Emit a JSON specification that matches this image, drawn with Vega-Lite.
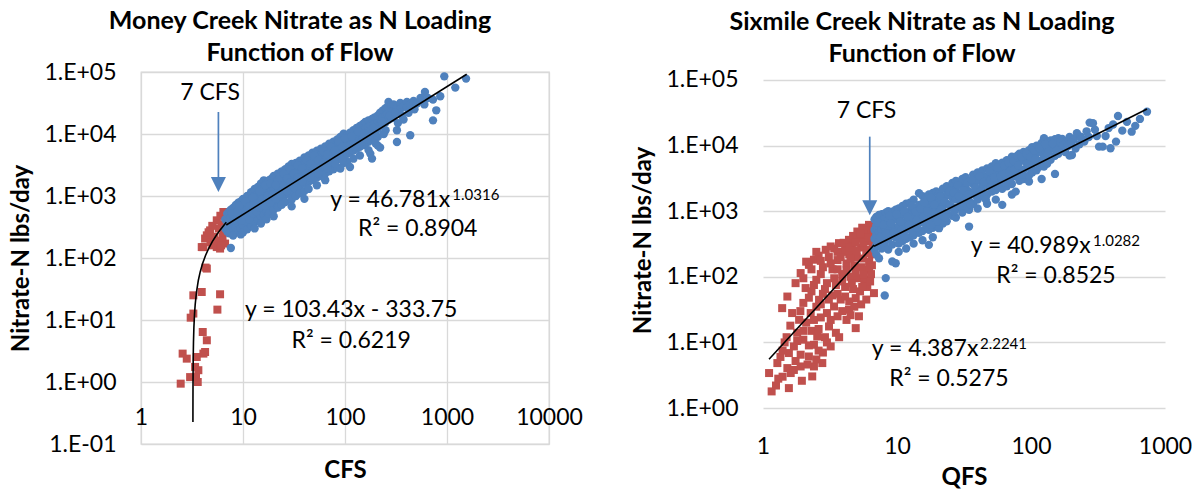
{
 "$schema": "https://vega.github.io/schema/vega-lite/v6.json",
 "padding": {"left": 9, "top": 8, "right": 0, "bottom": 0},
 "spacing": 48,
 "background": "white",
 "config": {
  "font": "Lato",
  "view": {"stroke": "#d9d9d9", "strokeWidth": 1.3},
  "axis": {"grid": true, "gridColor": "#d9d9d9", "gridWidth": 1.3, "domain": false, "ticks": false, "labelFont": "Lato", "labelFontSize": 23, "labelColor": "#000", "titleFont": "Lato", "titleFontSize": 24, "titleFontWeight": "bold", "titleColor": "#000", "labelOverlap": false, "labelFlush": false},
  "title": {"font": "Lato", "fontSize": 25, "fontWeight": "bold", "color": "#000", "lineHeight": 32, "anchor": "middle"}
 },
 "datasets": {
  "moneyBlue": [
   {"x":6.7,"y":420},{"x":6.7,"y":300},
   {"x":7.0,"y":520},{"x":7.0,"y":380},{"x":7.0,"y":270},
   {"x":7.3,"y":560},{"x":7.3,"y":330},{"x":7.3,"y":250},
   {"x":7.6,"y":145},{"x":7.6,"y":600},{"x":7.6,"y":450},
   {"x":8.0,"y":640},{"x":8.0,"y":480},{"x":8.0,"y":360},{"x":8.0,"y":300},{"x":8.0,"y":230},
   {"x":8.5,"y":720},{"x":8.5,"y":520},{"x":8.5,"y":400},{"x":8.5,"y":310},
   {"x":9.0,"y":780},{"x":9.0,"y":600},{"x":9.0,"y":470},{"x":9.0,"y":360},{"x":9.0,"y":280},
   {"x":9.5,"y":820},{"x":9.5,"y":650},{"x":9.5,"y":500},{"x":9.5,"y":390},{"x":9.5,"y":300},{"x":9.5,"y":240},
   {"x":10,"y":900},{"x":10,"y":700},{"x":10,"y":560},{"x":10,"y":440},{"x":10,"y":340},{"x":10,"y":260},
   {"x":11,"y":1000},{"x":11,"y":780},{"x":11,"y":620},{"x":11,"y":480},{"x":11,"y":380},{"x":11,"y":290},
   {"x":12,"y":1150},{"x":12,"y":900},{"x":12,"y":700},{"x":12,"y":560},{"x":12,"y":450},{"x":12,"y":330},
   {"x":13,"y":1300},{"x":13,"y":1000},{"x":13,"y":800},{"x":13,"y":640},{"x":13,"y":480},{"x":13,"y":380},{"x":13,"y":300},
   {"x":14,"y":1400},{"x":14,"y":1100},{"x":14,"y":880},{"x":14,"y":700},{"x":14,"y":560},{"x":14,"y":420},
   {"x":15,"y":1600},{"x":15,"y":1250},{"x":15,"y":950},{"x":15,"y":780},{"x":15,"y":600},{"x":15,"y":470},{"x":15,"y":360},
   {"x":16,"y":1790},{"x":16,"y":1300},{"x":16,"y":1050},{"x":16,"y":820},{"x":16,"y":640},{"x":16,"y":500},
   {"x":17,"y":1650},{"x":17,"y":1200},{"x":17,"y":950},{"x":17,"y":750},{"x":17,"y":560},{"x":17,"y":420},
   {"x":18,"y":1800},{"x":18,"y":1450},{"x":18,"y":1100},{"x":18,"y":880},{"x":18,"y":680},{"x":18,"y":520},
   {"x":19,"y":1900},{"x":19,"y":1500},{"x":19,"y":1200},{"x":19,"y":900},{"x":19,"y":700},
   {"x":20,"y":2100},{"x":20,"y":1650},{"x":20,"y":1300},{"x":20,"y":1000},{"x":20,"y":780},{"x":20,"y":600},{"x":20,"y":470},
   {"x":22,"y":2300},{"x":22,"y":1800},{"x":22,"y":1400},{"x":22,"y":1150},{"x":22,"y":850},{"x":22,"y":650},
   {"x":24,"y":2500},{"x":24,"y":2000},{"x":24,"y":1600},{"x":24,"y":1250},{"x":24,"y":950},{"x":24,"y":720},
   {"x":26,"y":2700},{"x":26,"y":2200},{"x":26,"y":1700},{"x":26,"y":1350},{"x":26,"y":1050},{"x":26,"y":800},
   {"x":28,"y":3000},{"x":28,"y":2400},{"x":28,"y":1850},{"x":28,"y":1450},{"x":28,"y":1100},
   {"x":30,"y":3300},{"x":30,"y":2600},{"x":30,"y":2000},{"x":30,"y":1550},{"x":30,"y":1200},{"x":30,"y":880},{"x":30,"y":680},
   {"x":33,"y":3400},{"x":33,"y":2800},{"x":33,"y":2200},{"x":33,"y":1700},{"x":33,"y":1300},{"x":33,"y":1000},
   {"x":36,"y":3700},{"x":36,"y":3000},{"x":36,"y":2400},{"x":36,"y":1850},{"x":36,"y":1400},{"x":36,"y":1100},
   {"x":40,"y":4200},{"x":40,"y":3300},{"x":40,"y":2600},{"x":40,"y":2000},{"x":40,"y":1600},{"x":40,"y":1200},{"x":40,"y":900},
   {"x":44,"y":4500},{"x":44,"y":3600},{"x":44,"y":2800},{"x":44,"y":2200},{"x":44,"y":1700},{"x":44,"y":1300},
   {"x":48,"y":5000},{"x":48,"y":3900},{"x":48,"y":3100},{"x":48,"y":2400},{"x":48,"y":1800},
   {"x":53,"y":5400},{"x":53,"y":4200},{"x":53,"y":3300},{"x":53,"y":2600},{"x":53,"y":2000},{"x":53,"y":1490},
   {"x":58,"y":5800},{"x":58,"y":4600},{"x":58,"y":3600},{"x":58,"y":2800},{"x":58,"y":2100},
   {"x":64,"y":6300},{"x":64,"y":5000},{"x":64,"y":3900},{"x":64,"y":3000},{"x":64,"y":2300},{"x":64,"y":1800},
   {"x":70,"y":7000},{"x":70,"y":5500},{"x":70,"y":4300},{"x":70,"y":3300},{"x":70,"y":2500},
   {"x":77,"y":7500},{"x":77,"y":5460},{"x":77,"y":4600},{"x":77,"y":3600},{"x":77,"y":2700},
   {"x":84,"y":8200},{"x":84,"y":6500},{"x":84,"y":5000},{"x":84,"y":3900},{"x":84,"y":2900},
   {"x":90,"y":9000},{"x":90,"y":7000},{"x":90,"y":5400},{"x":90,"y":4200},{"x":90,"y":2770},
   {"x":97,"y":10100},{"x":97,"y":7500},{"x":97,"y":5800},{"x":97,"y":4500},{"x":97,"y":3400},
   {"x":105,"y":9500},{"x":105,"y":7800},{"x":105,"y":6200},{"x":105,"y":4800},{"x":105,"y":3600},
   {"x":112,"y":10500},{"x":112,"y":8200},{"x":112,"y":6500},{"x":112,"y":5000},{"x":112,"y":2930},
   {"x":121,"y":11500},{"x":121,"y":9000},{"x":121,"y":7000},{"x":121,"y":5400},{"x":121,"y":4000},
   {"x":130,"y":12500},{"x":130,"y":9800},{"x":130,"y":7600},{"x":130,"y":5800},
   {"x":140,"y":13500},{"x":140,"y":10500},{"x":140,"y":8200},{"x":140,"y":6200},{"x":140,"y":4500},
   {"x":150,"y":14500},{"x":150,"y":11500},{"x":150,"y":8800},{"x":150,"y":6600},
   {"x":158,"y":15600},{"x":158,"y":12000},{"x":158,"y":9200},{"x":158,"y":7000},
   {"x":170,"y":16500},{"x":170,"y":13000},{"x":170,"y":10000},{"x":170,"y":7500},{"x":170,"y":5500},
   {"x":177,"y":14000},{"x":177,"y":4830},
   {"x":184,"y":17500},{"x":184,"y":4010},
   {"x":195,"y":18500},{"x":195,"y":14500},{"x":195,"y":11000},{"x":195,"y":8500},
   {"x":210,"y":20000},{"x":210,"y":15500},{"x":210,"y":12000},{"x":210,"y":9000},{"x":210,"y":6500},
   {"x":221,"y":22000},{"x":221,"y":17000},{"x":221,"y":6040},
   {"x":235,"y":24000},{"x":235,"y":18500},{"x":235,"y":14000},
   {"x":250,"y":26000},{"x":250,"y":20000},{"x":250,"y":15500},{"x":250,"y":11500},
   {"x":261,"y":27200},{"x":261,"y":21000},
   {"x":267,"y":32800},{"x":267,"y":17000},
   {"x":285,"y":29000},{"x":285,"y":23000},{"x":285,"y":18000},
   {"x":300,"y":30000},{"x":300,"y":24000},{"x":300,"y":19000},
   {"x":323,"y":26000},{"x":323,"y":11500},{"x":323,"y":7430},
   {"x":348,"y":31600},{"x":348,"y":25000},
   {"x":375,"y":28000},{"x":375,"y":17100},
   {"x":405,"y":32800},{"x":405,"y":27000},
   {"x":436,"y":30000},{"x":436,"y":9530},
   {"x":470,"y":34000},{"x":507,"y":30900},{"x":550,"y":38000},{"x":608,"y":47600},
   {"x":729,"y":35900},{"x":729,"y":16600},{"x":785,"y":24100},{"x":859,"y":40600},
   {"x":940,"y":85100},{"x":1206,"y":56000},{"x":1538,"y":78200},
   {"x":7.8,"y":520},{"x":8.2,"y":410},{"x":8.8,"y":560},{"x":9.2,"y":700},{"x":9.8,"y":400},{"x":10.5,"y":820},{"x":10.5,"y":500},
   {"x":11.5,"y":680},{"x":11.5,"y":420},{"x":12.5,"y":950},{"x":12.5,"y":520},{"x":13.5,"y":750},{"x":13.5,"y":560},
   {"x":14.5,"y":1200},{"x":14.5,"y":650},{"x":15.5,"y":880},{"x":16.5,"y":1500},{"x":16.5,"y":700},{"x":17.5,"y":1000},
   {"x":18.5,"y":1600},{"x":18.5,"y":780},{"x":19.5,"y":1050},{"x":21,"y":1500},{"x":21,"y":900},{"x":23,"y":2000},{"x":23,"y":1100},
   {"x":25,"y":2300},{"x":25,"y":1450},{"x":27,"y":1900},{"x":27,"y":1200},{"x":29,"y":2700},{"x":29,"y":1650},
   {"x":31.5,"y":2300},{"x":31.5,"y":1400},{"x":34.5,"y":3100},{"x":34.5,"y":2000},{"x":38,"y":2800},{"x":38,"y":1700},
   {"x":42,"y":3800},{"x":42,"y":2300},{"x":46,"y":3300},{"x":46,"y":2000},{"x":50,"y":4500},{"x":50,"y":2800},
   {"x":55,"y":3800},{"x":55,"y":2300},{"x":61,"y":5300},{"x":61,"y":3400},{"x":67,"y":4700},{"x":67,"y":2800},
   {"x":73,"y":6200},{"x":73,"y":3900},{"x":80,"y":5500},{"x":80,"y":3300},{"x":87,"y":7600},{"x":87,"y":4600},
   {"x":94,"y":6200},{"x":94,"y":3800},{"x":100,"y":8600},{"x":108,"y":5500},{"x":116,"y":9200},{"x":125,"y":6300},
   {"x":135,"y":11000},{"x":145,"y":7400},{"x":155,"y":10200},{"x":165,"y":8200},{"x":190,"y":12500},{"x":200,"y":7000},
   {"x":230,"y":16000},{"x":240,"y":10000},{"x":275,"y":20000},{"x":310,"y":22000},{"x":330,"y":15000},{"x":360,"y":20000},
   {"x":420,"y":22000},{"x":480,"y":25000},{"x":600,"y":30000},{"x":650,"y":38000}
  ],
  "moneyRed": [
   {"x":6.42,"y":552},{"x":5.53,"y":405},{"x":4.76,"y":279},{"x":4.25,"y":206},{"x":3.94,"y":150},{"x":5.53,"y":150},
   {"x":6.67,"y":171},{"x":4.42,"y":67.5},{"x":4.42,"y":232},{"x":4.09,"y":150},{"x":5.96,"y":142},{"x":4.3,"y":70},
   {"x":3.26,"y":25},{"x":3.94,"y":28.3},{"x":5.96,"y":26},{"x":5.61,"y":14.7},{"x":3.26,"y":12.7},{"x":3.07,"y":10.9},
   {"x":4.03,"y":6.4},{"x":4.42,"y":4.71},{"x":4.09,"y":2.87},{"x":2.56,"y":2.87},{"x":2.81,"y":2.38},{"x":3.52,"y":2.53},
   {"x":4.25,"y":3.05},{"x":3.39,"y":1.75},{"x":3.65,"y":1.55},{"x":3.46,"y":1.2},{"x":3.03,"y":1.2},{"x":3.6,"y":1.0},
   {"x":2.45,"y":0.94},{"x":6.0,"y":480},{"x":6.2,"y":350},{"x":5.8,"y":300},{"x":5.0,"y":330},{"x":4.6,"y":260},
   {"x":5.2,"y":220},{"x":6.3,"y":220},{"x":5.0,"y":160},{"x":6.5,"y":260},{"x":4.8,"y":180},{"x":5.7,"y":190},
   {"x":6.8,"y":420},{"x":6.1,"y":160}
  ],
  "moneyTrend": [
   {"seg":"pow","x":6.86,"y":341},{"seg":"pow","x":1560,"y":92060},
   {"seg":"lin","x":3.229,"y":0.2255},{"seg":"lin","x":3.23,"y":0.329},{"seg":"lin","x":3.232,"y":0.536},
   {"seg":"lin","x":3.235,"y":0.846},{"seg":"lin","x":3.24,"y":1.363},{"seg":"lin","x":3.25,"y":2.398},
   {"seg":"lin","x":3.27,"y":4.466},{"seg":"lin","x":3.3,"y":7.569},{"seg":"lin","x":3.35,"y":12.74},
   {"seg":"lin","x":3.4,"y":17.91},{"seg":"lin","x":3.5,"y":28.26},{"seg":"lin","x":3.65,"y":43.77},
   {"seg":"lin","x":3.8,"y":59.28},{"seg":"lin","x":4.0,"y":79.97},{"seg":"lin","x":4.3,"y":111.0},
   {"seg":"lin","x":4.6,"y":142.0},{"seg":"lin","x":5.0,"y":183.4},{"seg":"lin","x":5.5,"y":235.1},
   {"seg":"lin","x":6.0,"y":286.8},{"seg":"lin","x":6.5,"y":338.5},{"seg":"lin","x":6.86,"y":375.8}
  ],
  "moneyArrow": [{"x":5.74,"y":22640,"y2":2023}],
  "moneyHead": [{"x":5.74,"y":1532}],
  "moneyText": [
   {"kind":"lbl","label":"7 CFS","x":4.75,"y":35880},
   {"kind":"eq","label":"y = 46.781x","x":71.6,"y":665},
   {"kind":"sup","label":"1.0316","x":1127,"y":861},
   {"kind":"lbl","label":"R² = 0.8904","x":517,"y":224},
   {"kind":"lbl","label":"y = 103.43x - 333.75","x":115,"y":11.2},
   {"kind":"lbl","label":"R² = 0.6219","x":115,"y":3.5}
  ],
  "sixBlue": [
   {"x":6.8,"y":750},{"x":6.8,"y":520},{"x":6.8,"y":380},{"x":6.8,"y":260},
   {"x":7.0,"y":820},{"x":7.0,"y":600},{"x":7.0,"y":430},{"x":7.0,"y":300},{"x":7.0,"y":220},
   {"x":7.34,"y":879},{"x":7.34,"y":640},{"x":7.34,"y":480},{"x":7.34,"y":350},{"x":7.34,"y":192},
   {"x":7.7,"y":900},{"x":7.7,"y":700},{"x":7.7,"y":520},{"x":7.7,"y":380},{"x":7.7,"y":270},
   {"x":8.1,"y":51.9},{"x":8.1,"y":780},{"x":8.1,"y":560},{"x":8.1,"y":400},{"x":8.1,"y":300},
   {"x":8.24,"y":95.5},{"x":8.24,"y":950},{"x":8.24,"y":620},
   {"x":8.6,"y":1000},{"x":8.6,"y":720},{"x":8.6,"y":520},{"x":8.6,"y":370},{"x":8.6,"y":260},
   {"x":9.22,"y":986},{"x":9.22,"y":171},{"x":9.22,"y":800},{"x":9.22,"y":580},{"x":9.22,"y":420},{"x":9.22,"y":310},
   {"x":9.78,"y":161},{"x":9.78,"y":1050},{"x":9.78,"y":760},{"x":9.78,"y":540},{"x":9.78,"y":400},
   {"x":10.3,"y":1100},{"x":10.3,"y":820},{"x":10.3,"y":600},{"x":10.3,"y":430},{"x":10.3,"y":320},{"x":10.3,"y":240},
   {"x":11,"y":1200},{"x":11,"y":880},{"x":11,"y":650},{"x":11,"y":480},{"x":11,"y":350},
   {"x":11.7,"y":1300},{"x":11.7,"y":950},{"x":11.7,"y":700},{"x":11.7,"y":520},{"x":11.7,"y":380},{"x":11.7,"y":270},
   {"x":12.5,"y":1350},{"x":12.5,"y":1000},{"x":12.5,"y":760},{"x":12.5,"y":560},{"x":12.5,"y":400},
   {"x":13.3,"y":1500},{"x":13.3,"y":1100},{"x":13.3,"y":820},{"x":13.3,"y":600},{"x":13.3,"y":430},{"x":13.3,"y":320},
   {"x":14.6,"y":1880},{"x":14.6,"y":1250},{"x":14.6,"y":900},{"x":14.6,"y":660},{"x":14.6,"y":470},
   {"x":15.5,"y":1700},{"x":15.5,"y":1300},{"x":15.5,"y":960},{"x":15.5,"y":700},{"x":15.5,"y":500},{"x":15.5,"y":360},
   {"x":16.4,"y":1580},{"x":16.4,"y":1150},{"x":16.4,"y":840},{"x":16.4,"y":620},
   {"x":17.3,"y":307},{"x":17.3,"y":1800},{"x":17.3,"y":1300},{"x":17.3,"y":950},{"x":17.3,"y":700},{"x":17.3,"y":520},
   {"x":18.5,"y":1900},{"x":18.5,"y":1400},{"x":18.5,"y":1050},{"x":18.5,"y":780},{"x":18.5,"y":560},{"x":18.5,"y":400},
   {"x":19.6,"y":2000},{"x":19.6,"y":1500},{"x":19.6,"y":1100},{"x":19.6,"y":820},{"x":19.6,"y":600},
   {"x":20.6,"y":1880},{"x":20.6,"y":551},{"x":20.6,"y":1350},{"x":20.6,"y":980},{"x":20.6,"y":720},
   {"x":22,"y":2200},{"x":22,"y":1650},{"x":22,"y":1200},{"x":22,"y":880},{"x":22,"y":650},
   {"x":23.5,"y":2400},{"x":23.5,"y":1750},{"x":23.5,"y":1300},{"x":23.5,"y":950},{"x":23.5,"y":700},
   {"x":25.9,"y":2240},{"x":25.9,"y":2700},{"x":25.9,"y":1600},{"x":25.9,"y":1150},{"x":25.9,"y":850},
   {"x":27.5,"y":2900},{"x":27.5,"y":2100},{"x":27.5,"y":1500},{"x":27.5,"y":1100},{"x":27.5,"y":800},
   {"x":30.7,"y":2520},{"x":30.7,"y":3100},{"x":30.7,"y":1900},{"x":30.7,"y":1350},{"x":30.7,"y":950},
   {"x":32.5,"y":3300},{"x":32.5,"y":2300},{"x":32.5,"y":1700},{"x":32.5,"y":1200},
   {"x":34.5,"y":583},{"x":34.5,"y":2800},{"x":34.5,"y":2000},{"x":34.5,"y":1450},{"x":34.5,"y":1050},
   {"x":37,"y":3600},{"x":37,"y":2600},{"x":37,"y":1850},{"x":37,"y":1300},
   {"x":40,"y":3900},{"x":40,"y":2900},{"x":40,"y":2100},{"x":40,"y":1500},{"x":40,"y":1100},
   {"x":43.4,"y":3570},{"x":43.4,"y":4200},{"x":43.4,"y":2400},{"x":43.4,"y":1700},
   {"x":47,"y":4500},{"x":47,"y":3300},{"x":47,"y":2500},{"x":47,"y":1800},{"x":47,"y":1300},
   {"x":51,"y":4800},{"x":51,"y":3600},{"x":51,"y":2700},{"x":51,"y":2000},
   {"x":54.6,"y":5390},{"x":54.6,"y":4000},{"x":54.6,"y":2900},{"x":54.6,"y":2100},{"x":54.6,"y":1500},
   {"x":58,"y":5000},{"x":58,"y":3700},{"x":58,"y":2600},
   {"x":61,"y":1250},{"x":61,"y":5500},{"x":61,"y":4200},{"x":61,"y":3000},{"x":61,"y":2200},
   {"x":66,"y":6000},{"x":66,"y":4500},{"x":66,"y":3300},{"x":66,"y":2400},
   {"x":72,"y":6800},{"x":72,"y":5000},{"x":72,"y":3600},{"x":72,"y":2600},{"x":72,"y":1800},
   {"x":76.9,"y":1990},{"x":76.9,"y":6500},{"x":76.9,"y":4700},{"x":76.9,"y":3400},
   {"x":82,"y":7500},{"x":82,"y":5600},{"x":82,"y":4000},{"x":82,"y":2900},
   {"x":88,"y":8000},{"x":88,"y":6000},{"x":88,"y":4300},{"x":88,"y":3100},
   {"x":96.6,"y":2830},{"x":96.6,"y":8500},{"x":96.6,"y":6300},{"x":96.6,"y":4600},{"x":96.6,"y":3500},
   {"x":102,"y":7200},{"x":102,"y":9500},{"x":102,"y":5200},{"x":102,"y":3900},
   {"x":110,"y":10000},{"x":110,"y":7600},{"x":110,"y":5600},{"x":110,"y":4200},
   {"x":120,"y":3100},{"x":120,"y":11000},{"x":120,"y":8000},{"x":120,"y":6000},
   {"x":125,"y":12950},{"x":125,"y":9000},{"x":125,"y":6500},{"x":125,"y":4800},
   {"x":132,"y":11000},{"x":132,"y":7500},{"x":132,"y":5300},
   {"x":140,"y":6050},{"x":140,"y":12000},{"x":140,"y":9000},
   {"x":151,"y":3700},{"x":151,"y":12500},{"x":151,"y":9500},{"x":151,"y":7000},
   {"x":160,"y":13000},{"x":160,"y":10000},{"x":160,"y":7500},
   {"x":171,"y":12600},{"x":171,"y":9000},{"x":180,"y":11500},{"x":180,"y":8000},
   {"x":194,"y":7030},{"x":194,"y":13500},{"x":202,"y":7200},{"x":209,"y":12600},{"x":220,"y":15500},
   {"x":230,"y":10500},{"x":235,"y":13700},{"x":239,"y":12900},{"x":260,"y":16500},{"x":274,"y":22400},
   {"x":290,"y":21900},{"x":310,"y":14000},{"x":322,"y":9640},{"x":343,"y":9640},{"x":392,"y":9120},
   {"x":431,"y":11500},{"x":446,"y":28300},{"x":480,"y":16900},{"x":564,"y":16300},{"x":734,"y":32900},
   {"x":7.2,"y":680},{"x":7.5,"y":410},{"x":7.9,"y":620},{"x":8.3,"y":460},{"x":8.8,"y":850},{"x":9.0,"y":650},
   {"x":9.5,"y":480},{"x":9.9,"y":900},{"x":10.6,"y":700},{"x":10.8,"y":520},{"x":11.3,"y":1000},{"x":11.4,"y":420},
   {"x":12.0,"y":820},{"x":12.2,"y":610},{"x":12.9,"y":1200},{"x":13.0,"y":480},{"x":13.8,"y":980},{"x":14.0,"y":720},
   {"x":14.2,"y":560},{"x":15.0,"y":1100},{"x":15.8,"y":820},{"x":16.0,"y":1350},{"x":16.8,"y":1000},{"x":17.8,"y":620},
   {"x":18.0,"y":1600},{"x":19.0,"y":1250},{"x":19.3,"y":900},{"x":20.0,"y":700},{"x":21.0,"y":1700},{"x":21.3,"y":1050},
   {"x":22.7,"y":1400},{"x":23.0,"y":800},{"x":24.5,"y":2000},{"x":24.8,"y":1250},{"x":26.5,"y":1900},{"x":26.8,"y":1000},
   {"x":28.5,"y":2500},{"x":29.0,"y":1700},{"x":29.5,"y":1200},{"x":31.5,"y":2100},{"x":32.0,"y":1500},{"x":33.5,"y":2700},
   {"x":34.0,"y":1800},{"x":35.5,"y":1250},{"x":36.0,"y":3000},{"x":38.5,"y":2300},{"x":39.0,"y":1700},{"x":41.5,"y":3400},
   {"x":42.0,"y":2000},{"x":44.5,"y":2800},{"x":46.0,"y":1500},{"x":49.0,"y":4000},{"x":49.5,"y":3000},{"x":50.0,"y":2300},
   {"x":53.0,"y":3300},{"x":56.0,"y":4600},{"x":56.5,"y":2500},{"x":59.5,"y":3400},{"x":63.0,"y":5000},{"x":63.5,"y":3700},
   {"x":64.0,"y":2700},{"x":68.0,"y":5500},{"x":69.0,"y":4000},{"x":70.0,"y":3000},{"x":74.5,"y":5800},{"x":75.0,"y":4300},
   {"x":79.0,"y":7000},{"x":80.0,"y":5000},{"x":85.0,"y":6800},{"x":86.0,"y":3600},{"x":92.0,"y":7500},{"x":93.0,"y":5300},
   {"x":99.0,"y":6700},{"x":106.0,"y":8500},{"x":108.0,"y":6200},{"x":115.0,"y":9200},{"x":116.0,"y":4800},{"x":128.0,"y":10500},
   {"x":136.0,"y":8200},{"x":145.0,"y":10800},{"x":155.0,"y":8400},{"x":165.0,"y":11500},{"x":175.0,"y":10200},{"x":188.0,"y":9800},
   {"x":200.0,"y":11000},{"x":215.0,"y":9000},{"x":250.0,"y":11500},{"x":270.0,"y":13500},{"x":300.0,"y":17500},{"x":360.0,"y":14000},
   {"x":380.0,"y":18500},{"x":410.0,"y":21000},{"x":520.0,"y":23000},{"x":600.0,"y":20000},{"x":650.0,"y":25500}
  ],
  "sixRed": [
   {"x":6.18,"y":619},{"x":5.06,"y":490},{"x":4.38,"y":366},{"x":3.69,"y":326},{"x":2.94,"y":258},{"x":2.40,"y":182},
   {"x":1.91,"y":114},{"x":2.2,"y":152},{"x":5.84,"y":128},{"x":6.18,"y":90},{"x":6.73,"y":56.4},{"x":4.92,"y":47.3},
   {"x":4.38,"y":31.4},{"x":3.39,"y":35.3},{"x":2.62,"y":44.6},{"x":2.08,"y":67.3},{"x":1.52,"y":50},{"x":1.39,"y":33.3},
   {"x":1.86,"y":22.1},{"x":2.27,"y":28},{"x":4.92,"y":16.5},{"x":3.11,"y":17.5},{"x":2.54,"y":12.3},{"x":3.2,"y":8.68},
   {"x":2.40,"y":9.2},{"x":1.70,"y":8.68},{"x":1.56,"y":6.88},{"x":1.91,"y":6.49},{"x":2.2,"y":6.1},{"x":1.52,"y":4.06},
   {"x":1.91,"y":4.3},{"x":2.4,"y":4.3},{"x":2.77,"y":4.84},{"x":1.28,"y":4.84},{"x":1.11,"y":3.41},{"x":1.61,"y":3.41},
   {"x":2.33,"y":3.03},{"x":1.16,"y":1.79},{"x":1.56,"y":2.01},
   {"x":5.5,"y":560},{"x":6.0,"y":500},{"x":6.5,"y":450},{"x":5.8,"y":400},{"x":6.3,"y":350},{"x":5.2,"y":380},
   {"x":4.7,"y":420},{"x":4.1,"y":300},{"x":4.6,"y":290},{"x":5.4,"y":280},{"x":6.0,"y":260},{"x":6.5,"y":220},
   {"x":3.4,"y":270},{"x":3.9,"y":240},{"x":4.4,"y":220},{"x":5.0,"y":200},{"x":5.6,"y":190},{"x":6.2,"y":170},
   {"x":2.6,"y":210},{"x":3.1,"y":200},{"x":3.6,"y":180},{"x":4.2,"y":160},{"x":4.8,"y":150},{"x":5.4,"y":140},
   {"x":6.5,"y":150},{"x":2.3,"y":130},{"x":2.8,"y":140},{"x":3.3,"y":130},{"x":3.9,"y":110},{"x":4.5,"y":100},
   {"x":5.1,"y":95},{"x":5.7,"y":85},{"x":6.4,"y":110},{"x":2.0,"y":95},{"x":2.5,"y":90},{"x":3.0,"y":80},
   {"x":3.5,"y":75},{"x":4.1,"y":70},{"x":4.7,"y":65},{"x":5.3,"y":60},{"x":6.0,"y":70},{"x":1.75,"y":80},
   {"x":2.3,"y":60},{"x":2.8,"y":55},{"x":3.3,"y":52},{"x":3.8,"y":45},{"x":4.4,"y":42},{"x":5.4,"y":38},
   {"x":2.0,"y":40},{"x":2.5,"y":35},{"x":3.0,"y":28},{"x":3.6,"y":25},{"x":4.2,"y":22},{"x":1.65,"y":28},
   {"x":2.1,"y":20},{"x":2.7,"y":24},{"x":3.5,"y":14},{"x":2.9,"y":12},{"x":1.8,"y":14},{"x":2.3,"y":15},
   {"x":1.45,"y":10},{"x":2.0,"y":11},{"x":2.6,"y":7.5},{"x":1.35,"y":6},{"x":1.75,"y":5.2},{"x":2.15,"y":4.6},
   {"x":1.4,"y":3.0},{"x":1.95,"y":2.6},{"x":1.25,"y":2.2},
   {"x":2.1,"y":170},{"x":2.5,"y":240},{"x":2.7,"y":175},{"x":3.2,"y":290},{"x":3.6,"y":240},{"x":4.0,"y":330},
   {"x":4.4,"y":280},{"x":4.9,"y":330},{"x":5.3,"y":450},{"x":5.6,"y":330},{"x":6.1,"y":400},{"x":6.6,"y":300},
   {"x":6.7,"y":520},{"x":5.9,"y":230},{"x":5.0,"y":250},{"x":4.5,"y":190},{"x":3.8,"y":200},{"x":3.2,"y":160},
   {"x":2.7,"y":110},{"x":3.6,"y":130},{"x":4.2,"y":125},{"x":4.9,"y":115},{"x":5.6,"y":110},{"x":6.2,"y":140},
   {"x":2.4,"y":75},{"x":2.9,"y":65},{"x":3.4,"y":95},{"x":3.9,"y":85},{"x":4.6,"y":80},{"x":5.5,"y":70},
   {"x":6.3,"y":85},{"x":2.2,"y":48},{"x":2.7,"y":38},{"x":3.1,"y":45},{"x":3.6,"y":55},{"x":4.1,"y":50},
   {"x":4.8,"y":35},{"x":5.9,"y":45},{"x":1.9,"y":30},{"x":2.4,"y":22},{"x":3.2,"y":22},{"x":3.9,"y":30},
   {"x":4.5,"y":26},{"x":5.2,"y":25},{"x":1.6,"y":18},{"x":2.0,"y":15},{"x":2.6,"y":16},{"x":3.0,"y":10},
   {"x":3.7,"y":12},{"x":1.5,"y":12},{"x":2.2,"y":9},{"x":2.8,"y":7},{"x":1.8,"y":10.5},{"x":1.4,"y":7.5},
   {"x":2.5,"y":5.5},{"x":1.7,"y":3.8},{"x":1.3,"y":2.8}
  ],
  "sixTrend": [
   {"seg":"pow","x":6.74,"y":291.6},{"seg":"pow","x":734,"y":36240},
   {"seg":"low","x":1.109,"y":5.52},{"seg":"low","x":6.74,"y":305.6}
  ],
  "sixGrid": [{"x":1},{"x":10},{"x":100},{"x":1000}],
  "sixArrow": [{"x":6.26,"y":13690,"y2":1436}],
  "sixHead": [{"x":6.26,"y":1124}],
  "sixText": [
   {"kind":"lbl","label":"7 CFS","x":5.92,"y":26100},
   {"kind":"eq","label":"y = 40.989x","x":35.5,"y":229.6},
   {"kind":"sup","label":"1.0282","x":290,"y":293},
   {"kind":"lbl","label":"R² = 0.8525","x":153.7,"y":80.2},
   {"kind":"eq","label":"y = 4.387x","x":6.48,"y":6.11},
   {"kind":"sup","label":"2.2241","x":41.6,"y":7.8},
   {"kind":"lbl","label":"R² = 0.5275","x":24.4,"y":2.13}
  ]
 },
 "hconcat": [
  {
   "width": 408, "height": 372,
   "title": {"text": ["Money Creek Nitrate as N Loading", "Function of Flow"], "dx": -45, "offset": -5},
   "encoding": {
    "x": {"field": "x", "type": "quantitative", "scale": {"type": "log", "domain": [1, 10000]},
          "axis": {"values": [1, 10, 100, 1000, 10000], "format": "d", "title": "CFS", "labelPadding": 24, "titlePadding": 29, "offset": -62}},
    "y": {"field": "y", "type": "quantitative", "scale": {"type": "log", "domain": [0.1, 100000]},
          "axis": {"values": [0.1, 1, 10, 100, 1000, 10000, 100000], "labelExpr": "datum.value < 1 ? '1.E-0' + round(-log(datum.value)/LN10) : '1.E+0' + round(log(datum.value)/LN10)", "title": "Nitrate-N lbs/day", "labelPadding": 25, "titlePadding": 10}}
   },
   "layer": [
    {"data": {"name": "moneyRed"}, "mark": {"type": "square", "color": "#C0504D", "size": 64, "opacity": 1}},
    {"data": {"name": "moneyBlue"}, "mark": {"type": "circle", "color": "#4F81BD", "size": 70, "opacity": 1}},
    {"data": {"name": "moneyTrend"}, "mark": {"type": "line", "color": "#000", "strokeWidth": 1.6}, "encoding": {"detail": {"field": "seg"}}},
    {"data": {"name": "moneyArrow"}, "mark": {"type": "rule", "color": "#4F81BD", "strokeWidth": 1.7}, "encoding": {"y2": {"field": "y2"}}},
    {"data": {"name": "moneyHead"}, "mark": {"type": "point", "shape": "M-1,-1L1,-1L0,1Z", "filled": true, "color": "#4F81BD", "size": 225, "opacity": 1}},
    {"data": {"name": "moneyText"}, "transform": [{"filter": "datum.kind == 'lbl'"}], "mark": {"type": "text", "fontSize": 23, "align": "center", "baseline": "alphabetic", "color": "#000"}, "encoding": {"text": {"field": "label"}}},
    {"data": {"name": "moneyText"}, "transform": [{"filter": "datum.kind == 'eq'"}], "mark": {"type": "text", "fontSize": 23, "align": "left", "baseline": "alphabetic", "color": "#000"}, "encoding": {"text": {"field": "label"}}},
    {"data": {"name": "moneyText"}, "transform": [{"filter": "datum.kind == 'sup'"}], "mark": {"type": "text", "fontSize": 15, "align": "left", "baseline": "alphabetic", "color": "#000"}, "encoding": {"text": {"field": "label"}}}
   ]
  },
  {
   "width": 402, "height": 336,
   "view": {"stroke": null},
   "title": {"text": ["Sixmile Creek Nitrate as N Loading", "Function of Flow"], "dx": -42, "offset": 2},
   "encoding": {
    "x": {"field": "x", "type": "quantitative", "scale": {"type": "log", "domain": [1, 1000]},
          "axis": {"values": [1, 10, 100, 1000], "format": "d", "title": "QFS", "labelPadding": 27, "titlePadding": 7, "grid": false}},
    "y": {"field": "y", "type": "quantitative", "scale": {"type": "log", "domain": [1, 132400]},
          "axis": {"values": [1, 10, 100, 1000, 10000, 100000], "labelExpr": "datum.value < 1 ? '1.E-0' + round(-log(datum.value)/LN10) : '1.E+0' + round(log(datum.value)/LN10)", "title": "Nitrate-N lbs/day", "labelPadding": 25, "titlePadding": 10}}
   },
   "layer": [
    {"data": {"name": "sixGrid"}, "mark": {"type": "rule", "color": "#d9d9d9", "strokeWidth": 1.3}, "encoding": {"y": {"datum": 1}, "y2": {"datum": 100000}}},
    {"data": {"name": "sixRed"}, "mark": {"type": "square", "color": "#C0504D", "size": 64, "opacity": 1}},
    {"data": {"name": "sixBlue"}, "mark": {"type": "circle", "color": "#4F81BD", "size": 70, "opacity": 1}},
    {"data": {"name": "sixTrend"}, "mark": {"type": "line", "color": "#000", "strokeWidth": 1.6}, "encoding": {"detail": {"field": "seg"}}},
    {"data": {"name": "sixArrow"}, "mark": {"type": "rule", "color": "#4F81BD", "strokeWidth": 1.7}, "encoding": {"y2": {"field": "y2"}}},
    {"data": {"name": "sixHead"}, "mark": {"type": "point", "shape": "M-1,-1L1,-1L0,1Z", "filled": true, "color": "#4F81BD", "size": 225, "opacity": 1}},
    {"data": {"name": "sixText"}, "transform": [{"filter": "datum.kind == 'lbl'"}], "mark": {"type": "text", "fontSize": 23, "align": "center", "baseline": "alphabetic", "color": "#000"}, "encoding": {"text": {"field": "label"}}},
    {"data": {"name": "sixText"}, "transform": [{"filter": "datum.kind == 'eq'"}], "mark": {"type": "text", "fontSize": 23, "align": "left", "baseline": "alphabetic", "color": "#000"}, "encoding": {"text": {"field": "label"}}},
    {"data": {"name": "sixText"}, "transform": [{"filter": "datum.kind == 'sup'"}], "mark": {"type": "text", "fontSize": 15, "align": "left", "baseline": "alphabetic", "color": "#000"}, "encoding": {"text": {"field": "label"}}}
   ]
  }
 ]
}
